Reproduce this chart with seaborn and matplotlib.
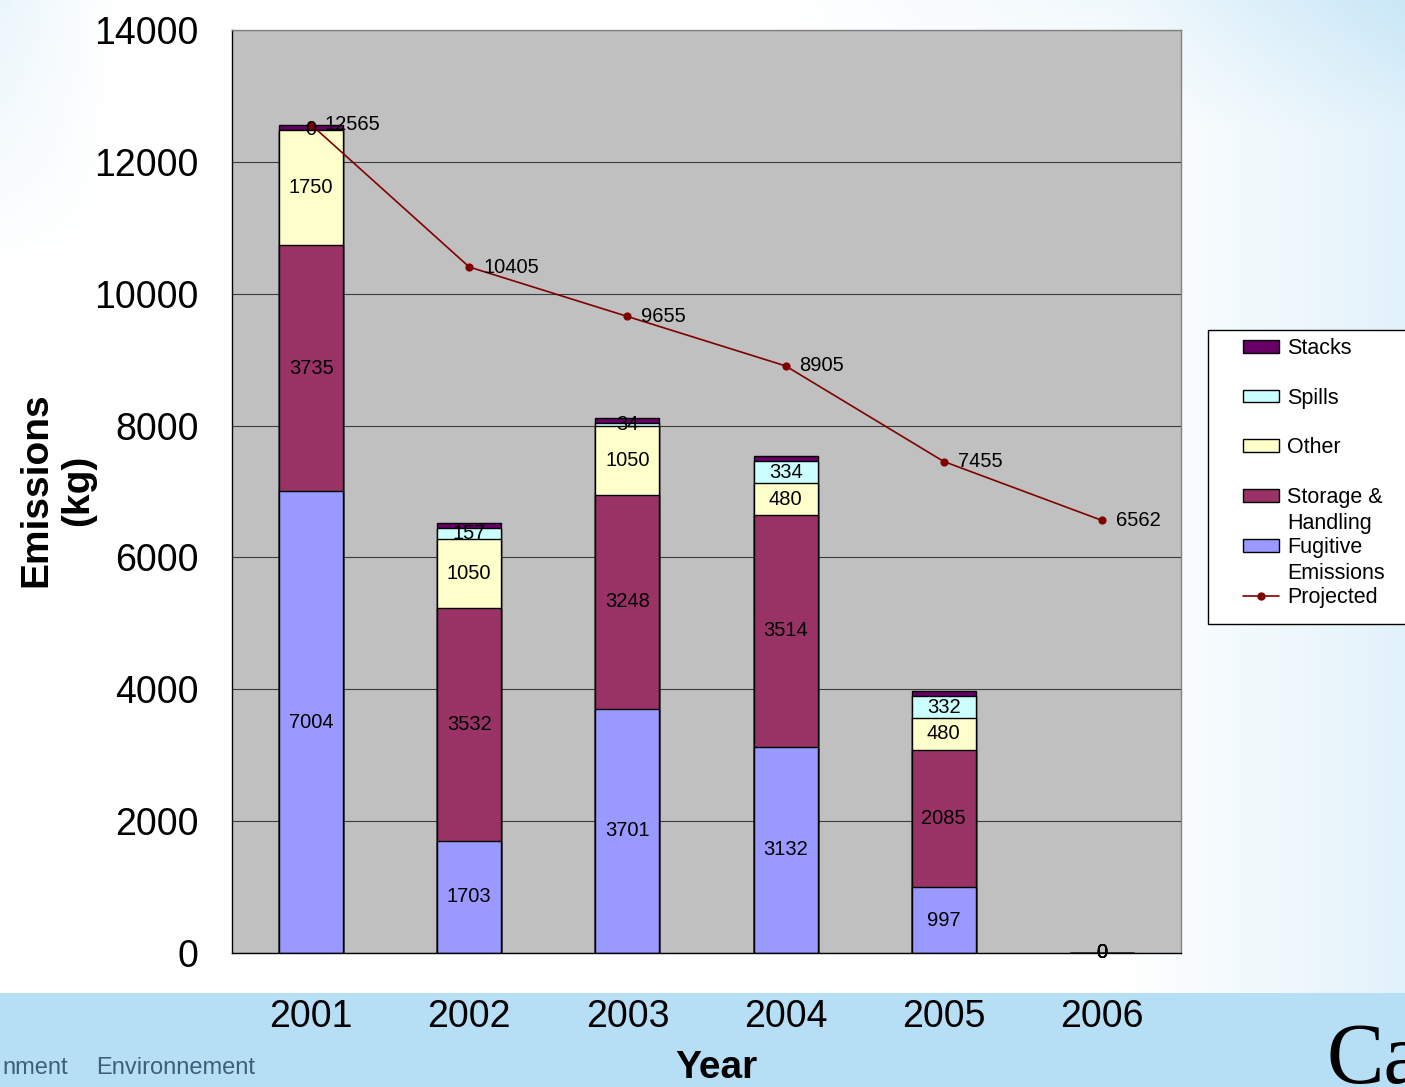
import numpy as np
import matplotlib.pyplot as plt
import matplotlib.patches as mpatches
from matplotlib.lines import Line2D
import seaborn as sns

years = ['2001', '2002', '2003', '2004', '2005', '2006']
fugitive = [7004, 1703, 3701, 3132, 997, 0]
storage = [3735, 3532, 3248, 3514, 2085, 0]
other = [1750, 1050, 1050, 480, 480, 0]
spills = [0, 157, 34, 334, 332, 0]
stacks = [76, 76, 76, 76, 76, 0]
projected = [12565, 10405, 9655, 8905, 7455, 6562]

# name (first line, second line), values, colour, show value labels
series = [
    (('Fugitive', 'Emissions'), fugitive, '#9999FF', True),
    (('Storage &', 'Handling'), storage, '#993366', True),
    (('Other', ''), other, '#FFFFCC', True),
    (('Spills', ''), spills, '#CCFFFF', True),
    (('Stacks', ''), stacks, '#660066', False),
]
line_color = '#800000'

sns.set_style('white')
plt.rcParams['font.family'] = ['Liberation Sans', 'DejaVu Sans']
plt.rcParams.update({'text.color': 'black', 'axes.labelcolor': 'black',
                     'xtick.color': 'black', 'ytick.color': 'black'})

W, H = 1405, 1087
fig = plt.figure(figsize=(W / 100, H / 100), dpi=100)

# slide background: white with a light blue wash at the edges and a band at the bottom
bg = fig.add_axes([0, 0, 1, 1], zorder=-10)
gx, gy = np.meshgrid(np.linspace(0, 1, 281), np.linspace(0, 1, 218))
wash = np.clip((gx - 0.80) / 0.20, 0, 1) * 0.55 + np.clip((0.12 - gy) / 0.12, 0, 1) * np.clip((gx - 0.55) / 0.45, 0, 1) * 0.5
wash += np.clip((0.08 - gx) / 0.08, 0, 1) * np.clip((0.25 - gy) / 0.25, 0, 1) * 0.4
wash = np.clip(wash, 0, 1)[..., None]
blue = np.array([0.80, 0.91, 0.97])
img = (1 - wash) * np.ones(3) + wash * blue
bg.imshow(img, extent=(0, 1, 0, 1), aspect='auto', origin='upper')
bg.add_patch(mpatches.Rectangle((0, 0), 1, 94 / H, color='#B6DEF4', lw=0))
bg.set_xlim(0, 1)
bg.set_ylim(0, 1)
bg.axis('off')

ax = fig.add_axes([232 / W, 1 - 953 / H, 949 / W, 923 / H])
ax.set_facecolor('#C0C0C0')

# cumulative tops, drawn from the tallest down so every segment shows
running = np.zeros(len(years))
bottoms, tops = [], []
for name, vals, col, lab in series:
    bottoms.append(running.copy())
    running = running + np.array(vals)
    tops.append(running.copy())

for (name, vals, col, lab), top in reversed(list(zip(series, tops))):
    sns.barplot(x=years, y=top, color=col, width=0.405, saturation=1,
                edgecolor='black', linewidth=1, errorbar=None, ax=ax, zorder=2)

for (name, vals, col, lab), bot in zip(series, bottoms):
    if not lab:
        continue
    for i, v in enumerate(vals):
        ax.text(i, bot[i] + v / 2, str(v), ha='center', va='center',
                fontsize=14.5, color='black', zorder=6)

sns.pointplot(x=years, y=projected, color=line_color, markers='o', markersize=5,
              linewidth=1.2, errorbar=None, ax=ax, zorder=5)
for i, v in enumerate(projected):
    ax.annotate(str(v), (i, v), xytext=(10, 0), textcoords='offset points',
                ha='left', va='center', fontsize=14.5, color='black', zorder=6)

ax.set_ylim(0, 14000)
ax.set_xlim(-0.5, len(years) - 0.5)
ax.set_yticks(np.arange(0, 14001, 2000))
ax.yaxis.grid(True, color='#3c3c3c', linewidth=0.8)
ax.xaxis.grid(False)
ax.set_axisbelow(True)
ax.set_xlabel('')
ax.set_ylabel('')

ax.set_xticks(np.arange(-0.5, len(years), 1), minor=True)
ax.tick_params(axis='x', which='major', length=0, pad=33, labelsize=27, labelcolor='black')
ax.tick_params(axis='x', which='minor', length=9, width=1, color='black', direction='out')
ax.tick_params(axis='y', length=5, width=1, color='black', direction='out', pad=19,
               labelsize=27, labelcolor='black')

for side in ['left', 'bottom']:
    ax.spines[side].set_color('black')
    ax.spines[side].set_linewidth(1)
for side in ['top', 'right']:
    ax.spines[side].set_color('#808080')
    ax.spines[side].set_linewidth(1)

fig.text(57 / W, 1 - 490 / H, 'Emissions\n(kg)', rotation=90, ha='center', va='center',
         fontsize=28, fontweight='bold', multialignment='center', color='black')
fig.text(716 / W, 1 - 1068 / H, 'Year', ha='center', va='center',
         fontsize=28, fontweight='bold', color='black')

# legend: white box running off the right edge, one row per entry, second lines hang below
fig.patches.append(mpatches.Rectangle((1208 / W, 1 - 624 / H), 210 / W, 294 / H,
                                      transform=fig.transFigure, facecolor='white',
                                      edgecolor='black', linewidth=1, zorder=4))
handles = [mpatches.Patch(facecolor=col, edgecolor='black', linewidth=1, label=name[0])
           for name, vals, col, lab in reversed(series)]
handles.append(Line2D([0], [0], color=line_color, marker='o', markersize=5, linewidth=1.2,
                      label='Projected'))
leg = fig.legend(handles=handles, loc='upper left', bbox_to_anchor=(1232 / W, 1 - 327 / H),
                 fontsize=15.5, frameon=False, borderpad=0.5, labelspacing=1.34,
                 handlelength=1.7, handleheight=0.55, handletextpad=0.37, borderaxespad=0)
leg.set_zorder(5)
for t in leg.get_texts():
    t.set_color('black')

fig.canvas.draw()
seconds = [name[1] for name, vals, col, lab in reversed(series)] + ['']
for t, extra in zip(leg.get_texts(), seconds):
    if not extra:
        continue
    bb = t.get_window_extent()
    fig.text(bb.x0 / W, ((bb.y0 + bb.y1) / 2 - 26) / H, extra, ha='left', va='center',
             fontsize=15.5, color='black', zorder=6)

# cropped logo texts at the bottom of the slide
fig.text(68 / W, 1 - 1068 / H, 'nment', ha='right', va='center', fontsize=17,
         color='#3E5F7A')
fig.text(96 / W, 1 - 1068 / H, 'Environnement', ha='left', va='center', fontsize=17,
         color='#3E5F7A')
fig.text(1326 / W, 1 - 1022 / H, 'Ca', ha='left', va='top', fontsize=62,
         family='Liberation Serif', color='black')

fig.savefig('out.png', dpi=100)
